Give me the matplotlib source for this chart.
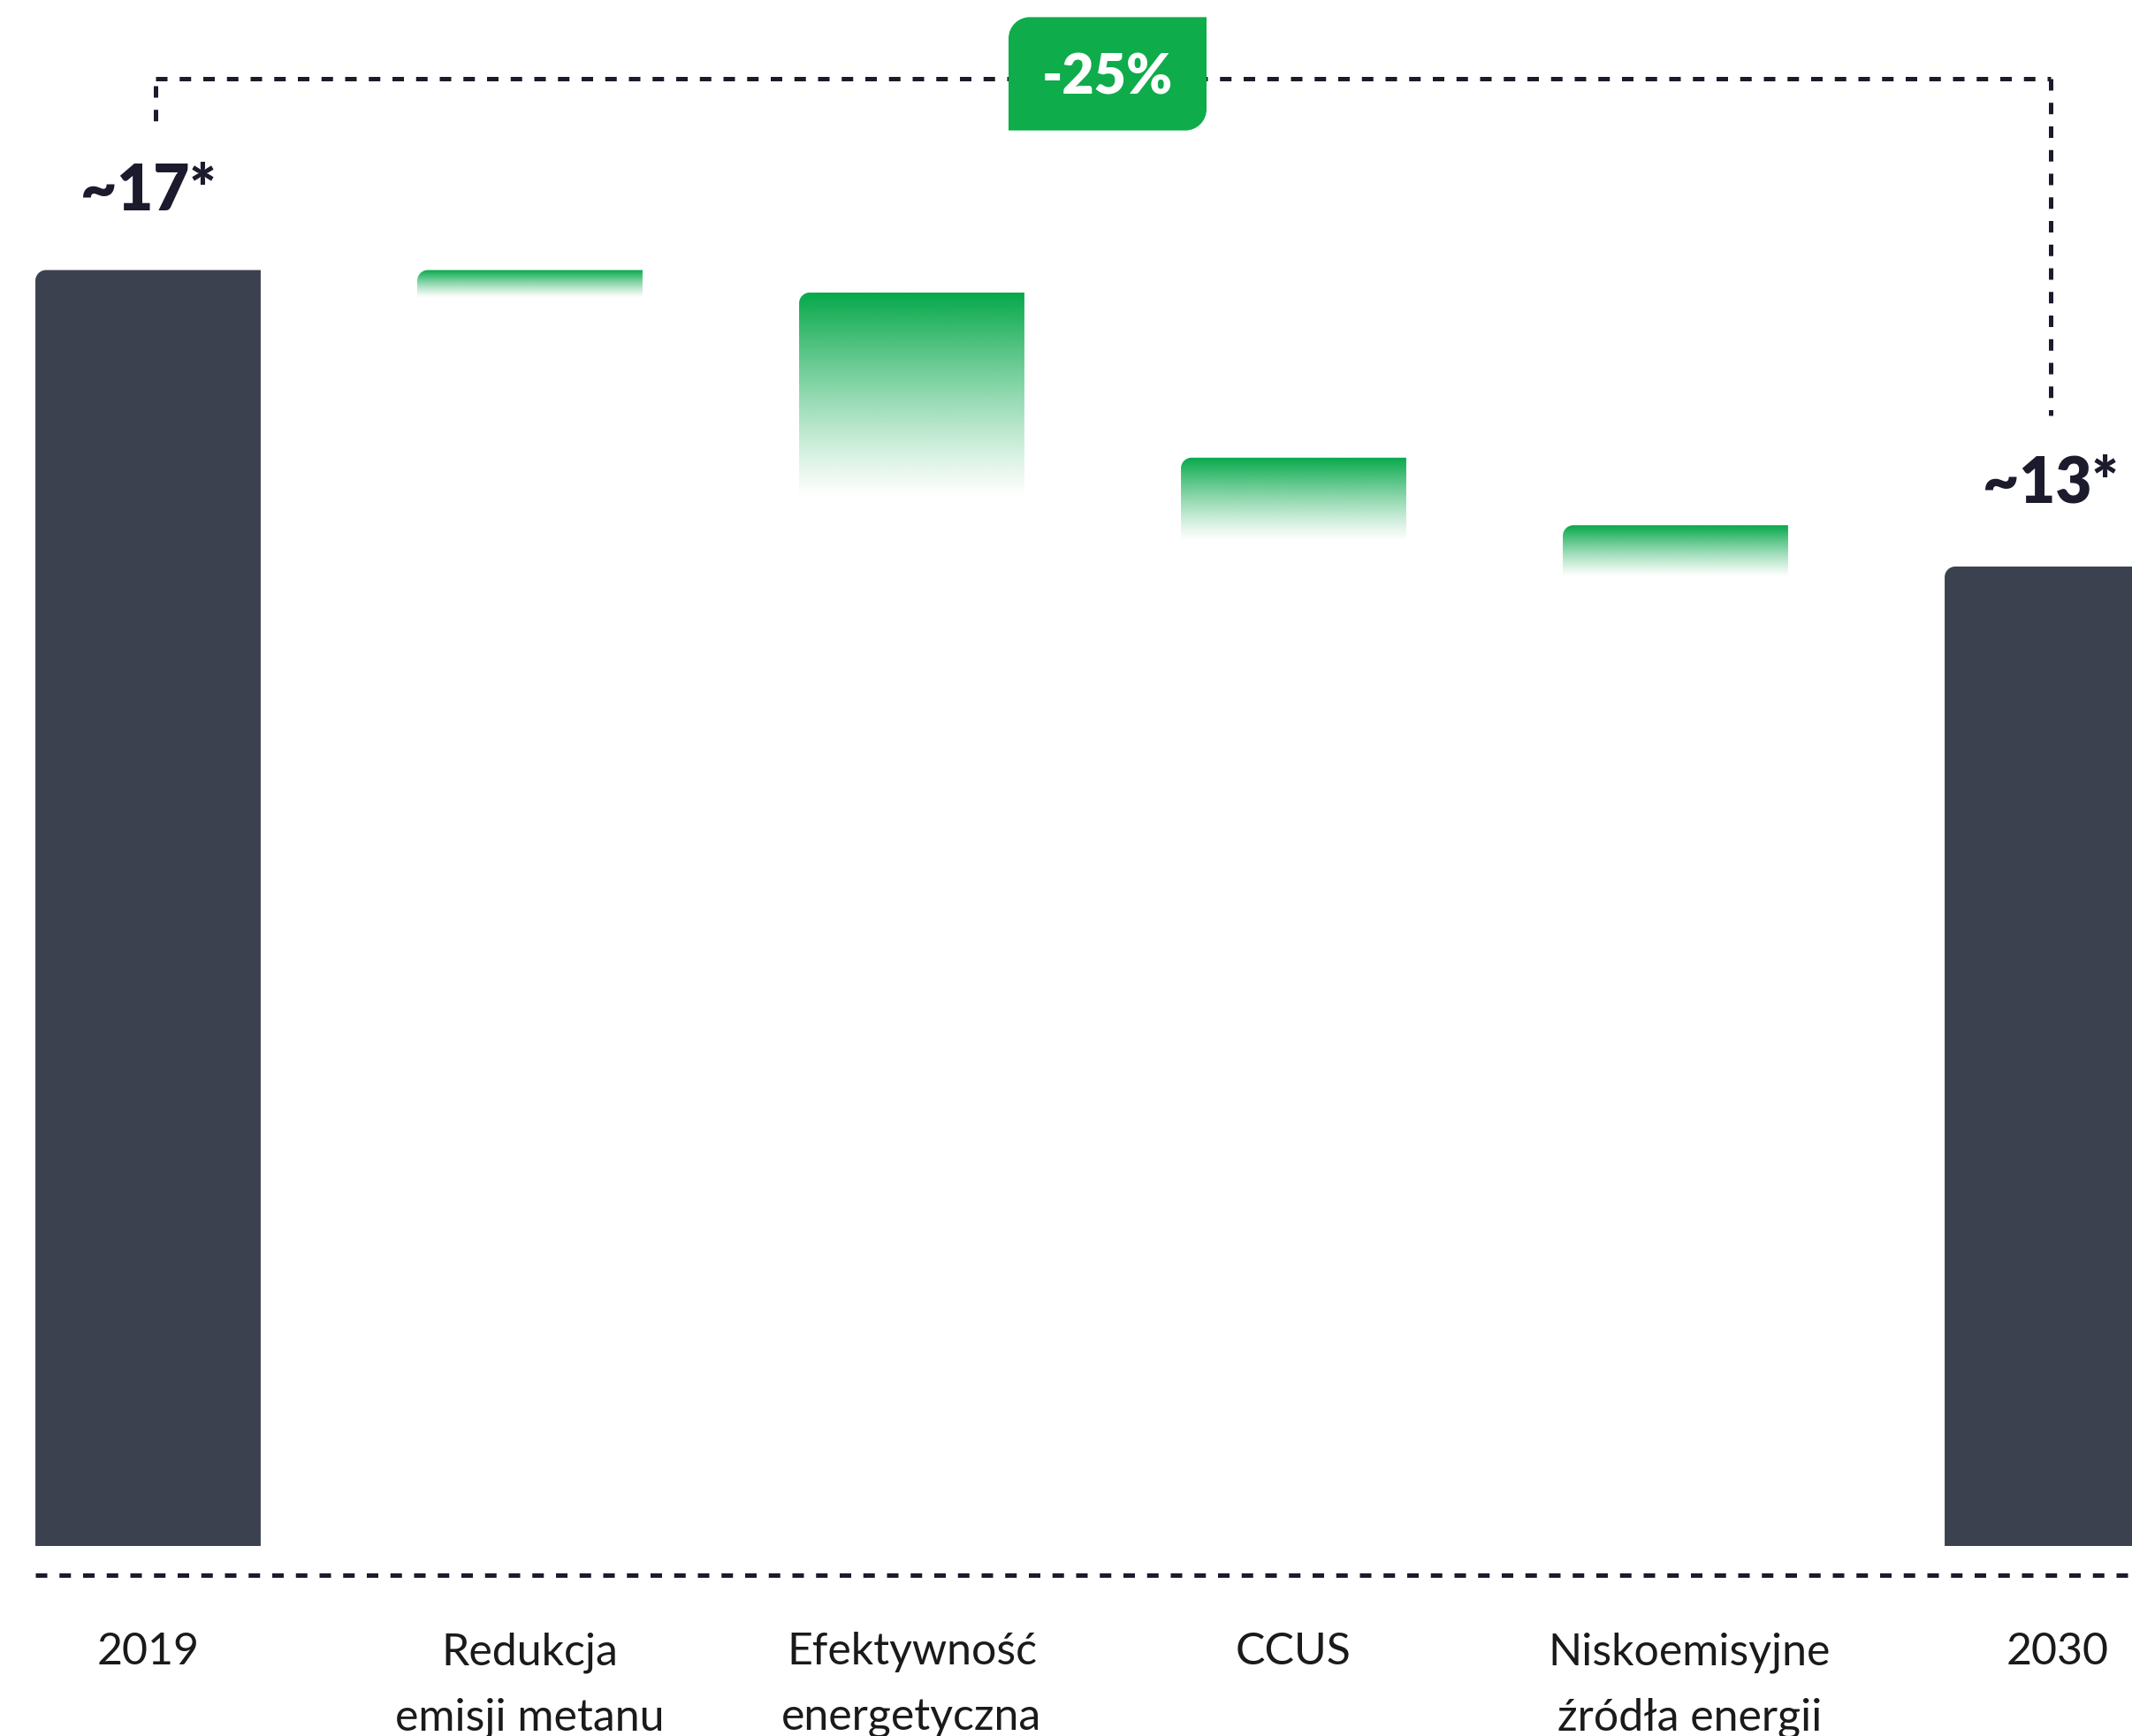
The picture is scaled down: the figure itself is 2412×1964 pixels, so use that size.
import numpy as np
import matplotlib
matplotlib.use("Agg")
import matplotlib.pyplot as plt
from matplotlib.path import Path
from matplotlib.patches import PathPatch

# data
categories = ["2019", "Redukcja\nemisji metanu", "Efektywność\nenergetyczna",
              "CCUS", "Niskoemisyjne\nźródła energii", "2030"]
start_value = 17.0
reductions = [0.3, 2.2, 0.9, 0.55]
end_value = 13.05
total_labels = ["~17*", "~13*"]
change_label = "-25%"

DARK = "#3b414f"
GREEN = "#05a84a"
BADGE = "#0eac4b"
INK = "#1b1b2d"

plt.rcParams["font.family"] = ["Lato", "DejaVu Sans"]

fig = plt.figure(figsize=(24.12, 19.65), dpi=100)
ax = fig.add_axes([0, 0, 1, 1])
XLIM = (-0.3877, 5.1956)
YLIM = (-2.532, 20.61)
px_x = 2412 / (XLIM[1] - XLIM[0])
px_y = 1965 / (YLIM[1] - YLIM[0])

x = np.arange(len(categories))
width = 0.59
K = 0.5523


def tl_round(x0, x1, y0, y1, r=12):
    rx, ry = r / px_x, r / px_y
    verts = [(x0, y0), (x0, y1 - ry), (x0, y1 - ry + K * ry), (x0 + rx - K * rx, y1),
             (x0 + rx, y1), (x1, y1), (x1, y0), (x0, y0)]
    codes = [Path.MOVETO, Path.LINETO, Path.CURVE4, Path.CURVE4, Path.CURVE4,
             Path.LINETO, Path.LINETO, Path.CLOSEPOLY]
    return Path(verts, codes)


# total bars
for xi, val in [(x[0], start_value), (x[-1], end_value)]:
    ax.add_patch(PathPatch(tl_round(xi - width / 2, xi + width / 2, 0, val),
                           facecolor=DARK, edgecolor="none", zorder=2))

# gradient step bars (fade runs a little past the step)
level = start_value
rgb = np.array(matplotlib.colors.to_rgb(GREEN))
t = np.linspace(0, 1, 256)
grad = np.zeros((256, 1, 4))
grad[:, 0, :3] = rgb
grad[:, 0, 3] = (1 - t) ** 1.2
for xi, step in zip(x[1:-1], reductions):
    top = level
    bottom = level - step * 1.25
    x0, x1 = xi - width / 2, xi + width / 2
    im = ax.imshow(grad, extent=[x0, x1, bottom, top], origin="upper",
                   aspect="auto", interpolation="bilinear", zorder=2)
    clip = PathPatch(tl_round(x0, x1, bottom, top), facecolor="none",
                     edgecolor="none", transform=ax.transData)
    ax.add_patch(clip)
    im.set_clip_path(clip)
    level -= step

# dashed guide lines
dash = dict(color=INK, lw=3.6, linestyle=(0, (2.6, 2.75)), dash_capstyle="butt",
            solid_capstyle="butt", zorder=1)
ax.plot([x[0] - width / 2, XLIM[1]], [-0.389, -0.389], **dash)
top_y = 19.55
lx, rx_ = x[0] + 0.02, x[-1] - 0.018
ax.plot([lx, rx_], [top_y, top_y], **dash)
ax.plot([lx, lx], [19.45, 18.96], **dash)
ax.plot([rx_, rx_], [top_y, 15.06], **dash)

# badge with rounded top-left and bottom-right corners
bx0, bx1, by0, by1 = 2.2535, 2.772, 18.86, 20.37
r = 24
brx, bry = r / px_x, r / px_y
bverts = [(bx0, by0), (bx0, by1 - bry), (bx0, by1 - bry + K * bry), (bx0 + brx - K * brx, by1),
          (bx0 + brx, by1), (bx1, by1), (bx1, by0 + bry), (bx1, by0 + bry - K * bry),
          (bx1 - brx + K * brx, by0), (bx1 - brx, by0), (bx0, by0)]
bcodes = [Path.MOVETO, Path.LINETO, Path.CURVE4, Path.CURVE4, Path.CURVE4, Path.LINETO,
          Path.LINETO, Path.CURVE4, Path.CURVE4, Path.CURVE4, Path.CLOSEPOLY]
ax.add_patch(PathPatch(Path(bverts, bcodes), facecolor=BADGE, edgecolor="none", zorder=3))
ax.text((bx0 + bx1) / 2, 19.35, change_label, ha="center", va="baseline",
        fontsize=45, fontweight="heavy", color="white", zorder=4)

# total value labels
ax.text(x[0], start_value + 0.81, total_labels[0], ha="center", va="baseline",
        fontsize=51, fontweight="heavy", color=INK)
ax.text(x[-1] - 0.018, end_value + 0.87, total_labels[1], ha="center", va="baseline",
        fontsize=51, fontweight="heavy", color=INK)

# category labels
label_shift = [0, 0, 0, 0, 0.037, 0]
for xi, cat, dx in zip(x, categories, label_shift):
    for j, line in enumerate(cat.split("\n")):
        ax.text(xi + dx, -1.567 - 0.871 * j, line, ha="center", va="baseline",
                fontsize=36, color="#1a1a1a")

ax.set_xlim(*XLIM)
ax.set_ylim(*YLIM)
ax.axis("off")

fig.savefig("out.png", dpi=100, facecolor="white")
